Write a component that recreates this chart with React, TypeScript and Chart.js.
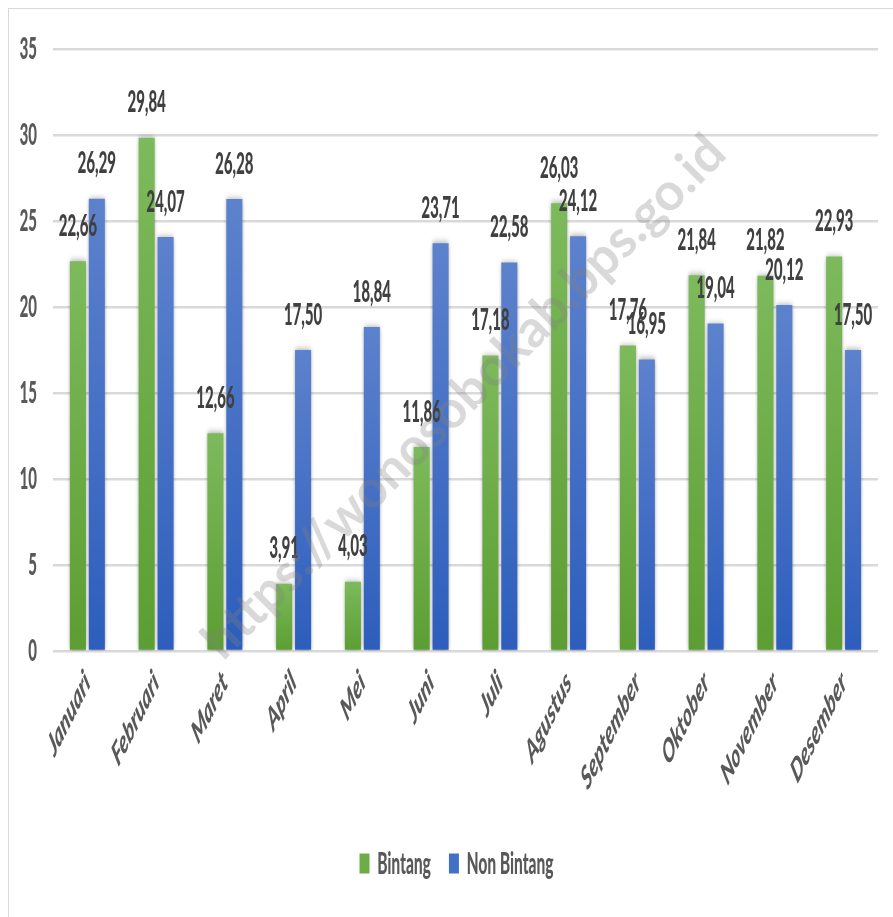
import React, { useEffect, useRef } from "react";
import { Chart, registerables } from "chart.js";

Chart.register(...registerables);

// ---- data ----
const months = [
  "Januari", "Februari", "Maret", "April", "Mei", "Juni",
  "Juli", "Agustus", "September", "Oktober", "November", "Desember",
];
const bintang = [22.66, 29.84, 12.66, 3.91, 4.03, 11.86, 17.18, 26.03, 17.76, 21.84, 21.82, 22.93];
const nonBintang = [26.29, 24.07, 26.28, 17.5, 18.84, 23.71, 22.58, 24.12, 16.95, 19.04, 20.12, 17.5];
const seriesNames = ["Bintang", "Non Bintang"];
const yMin = 0;
const yMax = 35;
const yStep = 5;
const watermark = "https://wonosobokab.bps.go.id";

// ---- styling ----
const SQUASH = 0.5;
const CANVAS_W = 1768;
const CANVAS_H = 908;
const FONT = "Lato, 'Open Sans', sans-serif";
const HEAVY = 900;
const GREEN_TOP = "#7dba5c";
const GREEN_BOTTOM = "#5c9e33";
const BLUE_TOP = "#5d82cd";
const BLUE_BOTTOM = "#2d5ebd";
const legendColors = ["#6cad48", "#4270c6"];
const LEGEND_SHIFT = 26;

const fmt = (v: number) => v.toFixed(2).replace(".", ",");

const gradientFor = (top: string, bottom: string) => (ctx: any) => {
  const chart = ctx.chart;
  const ys = chart.scales?.y;
  if (!ys || ctx.type !== "data") return bottom;
  const v = ctx.raw as number;
  const yt = ys.getPixelForValue(v);
  const yb = ys.getPixelForValue(0);
  if (!isFinite(yt) || !isFinite(yb) || yt === yb) return bottom;
  const g = chart.ctx.createLinearGradient(0, yt, 0, yb);
  g.addColorStop(0, top);
  g.addColorStop(1, bottom);
  return g;
};

const barShadow = {
  id: "barShadow",
  beforeDatasetsDraw(chart: any) {
    const c = chart.ctx;
    c.save();
    c.shadowColor = "rgba(0,0,0,0.4)";
    c.shadowBlur = 7;
    c.shadowOffsetX = 0;
    c.shadowOffsetY = 0;
  },
  afterDatasetsDraw(chart: any) {
    chart.ctx.restore();
  },
};

const valueLabels = {
  id: "valueLabels",
  afterDatasetsDraw(chart: any) {
    const c = chart.ctx;
    c.save();
    c.font = `${HEAVY} 30px ${FONT}`;
    c.fillStyle = "#404040";
    c.textAlign = "center";
    c.textBaseline = "middle";
    chart.data.datasets.forEach((ds: any, di: number) => {
      const meta = chart.getDatasetMeta(di);
      meta.data.forEach((el: any, i: number) => {
        c.fillText(fmt(ds.data[i]), el.x, el.y - 35);
      });
    });
    c.restore();
  },
};

const legendShift = {
  id: "legendShift",
  afterLayout(chart: any) {
    const l = chart.legend;
    if (l) {
      l.left += LEGEND_SHIFT;
      l.right += LEGEND_SHIFT;
    }
  },
};

// watermark is drawn un-squashed (counter-scaled) so it looks upright on screen
const watermarkPlugin = {
  id: "watermark",
  afterDraw(chart: any) {
    const c = chart.ctx;
    c.save();
    c.translate(910, 388);
    c.scale(1 / SQUASH, 1);
    c.rotate(-Math.PI / 4);
    c.font = `bold 40px ${FONT}`;
    const w = c.measureText(watermark).width;
    const size = (40 * 715) / w;
    c.font = `bold ${size}px ${FONT}`;
    c.fillStyle = "rgba(128,128,128,0.3)";
    c.textAlign = "center";
    c.textBaseline = "middle";
    c.fillText(watermark, 0, 0);
    c.restore();
  },
};

export default function App() {
  const ref = useRef<HTMLCanvasElement>(null);

  useEffect(() => {
    if (!ref.current) return;
    const chart = new Chart(ref.current, {
      type: "bar",
      data: {
        labels: months,
        datasets: [
          {
            label: seriesNames[0],
            data: bintang,
            backgroundColor: gradientFor(GREEN_TOP, GREEN_BOTTOM),
            borderWidth: 0,
            barPercentage: 0.85,
            categoryPercentage: 0.55,
          },
          {
            label: seriesNames[1],
            data: nonBintang,
            backgroundColor: gradientFor(BLUE_TOP, BLUE_BOTTOM),
            borderWidth: 0,
            barPercentage: 0.85,
            categoryPercentage: 0.55,
          },
        ],
      },
      options: {
        responsive: false,
        animation: false,
        events: [],
        layout: { padding: { left: 0, right: 30, top: 40, bottom: 28 } },
        plugins: {
          tooltip: { enabled: false },
          legend: {
            position: "bottom",
            labels: {
              boxWidth: 20,
              boxHeight: 20,
              padding: 36,
              color: "#595959",
              font: { family: FONT, size: 31, weight: HEAVY },
              generateLabels: () =>
                seriesNames.map((name, i) => ({
                  text: name,
                  fillStyle: legendColors[i],
                  strokeStyle: legendColors[i],
                  lineWidth: 0,
                  hidden: false,
                  datasetIndex: i,
                  fontColor: "#595959",
                })),
            },
          },
        },
        scales: {
          x: {
            grid: { display: false, drawTicks: false },
            border: { display: false },
            ticks: {
              color: "#595959",
              font: { family: FONT, size: 33, weight: HEAVY, style: "italic" },
              minRotation: 45,
              maxRotation: 45,
              autoSkip: false,
              padding: 12,
            },
            afterFit(s: any) {
              s.height = 161;
            },
          },
          y: {
            min: yMin,
            max: yMax,
            grid: {
              color: "#d9d9d9",
              lineWidth: 2.5,
              drawTicks: true,
              tickLength: 10,
              tickColor: "rgba(0,0,0,0)",
            },
            border: { display: false },
            ticks: {
              stepSize: yStep,
              color: "#595959",
              font: { family: FONT, size: 30, weight: HEAVY },
              padding: 22,
            },
            afterFit(s: any) {
              s.width = 88;
            },
          },
        },
      },
      plugins: [barShadow, valueLabels, legendShift, watermarkPlugin],
    } as any);
    return () => chart.destroy();
  }, []);

  return (
    <div
      style={{
        position: "fixed",
        left: 8,
        top: 8,
        right: 0,
        bottom: 0,
        borderTop: "1px solid #d9d9d9",
        borderLeft: "1px solid #d9d9d9",
        overflow: "hidden",
        background: "#fff",
      }}
    >
      <div
        style={{
          width: CANVAS_W,
          height: CANVAS_H,
          transform: `scaleX(${SQUASH})`,
          transformOrigin: "0 0",
        }}
      >
        <canvas
          ref={ref}
          width={CANVAS_W}
          height={CANVAS_H}
          style={{ width: CANVAS_W, height: CANVAS_H, display: "block" }}
        />
      </div>
    </div>
  );
}
